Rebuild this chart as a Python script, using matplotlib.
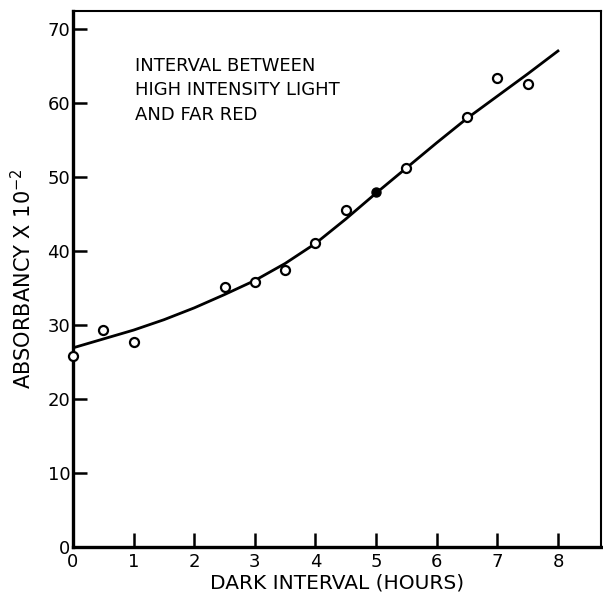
import matplotlib
matplotlib.use('Agg')
import matplotlib.pyplot as plt

# measured points (open circles), x in hours
hours = [0.0, 0.5, 1.0, 2.5, 3.0, 3.5, 4.0, 4.5, 5.5, 6.5, 7.0, 7.5]
absorb = [25.8, 29.3, 27.7, 35.1, 35.8, 37.4, 41.1, 45.5, 51.2, 58.1, 63.4, 62.6]

# filled point
filled_x = [5.0]
filled_y = [48.0]

# fitted curve
curve_x = [0.0, 0.5, 1.0, 1.5, 2.0, 2.5, 3.0, 3.5, 4.0, 4.5, 5.0, 5.5, 6.0, 6.5, 7.0, 7.5, 8.0]
curve_y = [26.9, 28.1, 29.3, 30.7, 32.3, 34.1, 36.0, 38.3, 41.0, 44.3, 47.8, 51.2, 54.6, 57.9, 60.9, 63.9, 67.0]

x_ticks = [0, 1, 2, 3, 4, 5, 6, 7, 8]
y_ticks = [0, 10, 20, 30, 40, 50, 60, 70]

plt.rcParams['font.family'] = ['DejaVu Sans']

fig = plt.figure(figsize=(6.03, 5.94), dpi=100)
ax = fig.add_axes([73 / 603, 47 / 594, 528 / 603, 536 / 594])

ax.plot(curve_x, curve_y, color='black', linewidth=2.0, zorder=2)
ax.plot(hours, absorb, linestyle='none', marker='o', markersize=6.5,
        markerfacecolor='white', markeredgecolor='black', markeredgewidth=1.6,
        zorder=3, clip_on=False)
ax.plot(filled_x, filled_y, linestyle='none', marker='o', markersize=6.5,
        color='black', zorder=3)

ax.set_xlim(0, 8.71)
ax.set_ylim(0, 72.4)
ax.set_xticks(x_ticks)
ax.set_yticks(y_ticks)
ax.tick_params(direction='in', length=10, width=1.8, labelsize=13, pad=4)
ax.tick_params(axis='y', pad=2)

for s in ['left', 'bottom']:
    ax.spines[s].set_linewidth(2.4)
for s in ['top', 'right']:
    ax.spines[s].set_linewidth(1.5)

ax.set_xlabel('DARK INTERVAL (HOURS)', fontsize=14.5, labelpad=2)
ax.set_ylabel('ABSORBANCY X 10$^{-2}$', fontsize=15, labelpad=9)

ax.text(1.03, 66.2, 'INTERVAL BETWEEN\nHIGH INTENSITY LIGHT\nAND FAR RED',
        fontsize=13, va='top', ha='left', linespacing=1.45)

fig.savefig('out.png', dpi=100)
